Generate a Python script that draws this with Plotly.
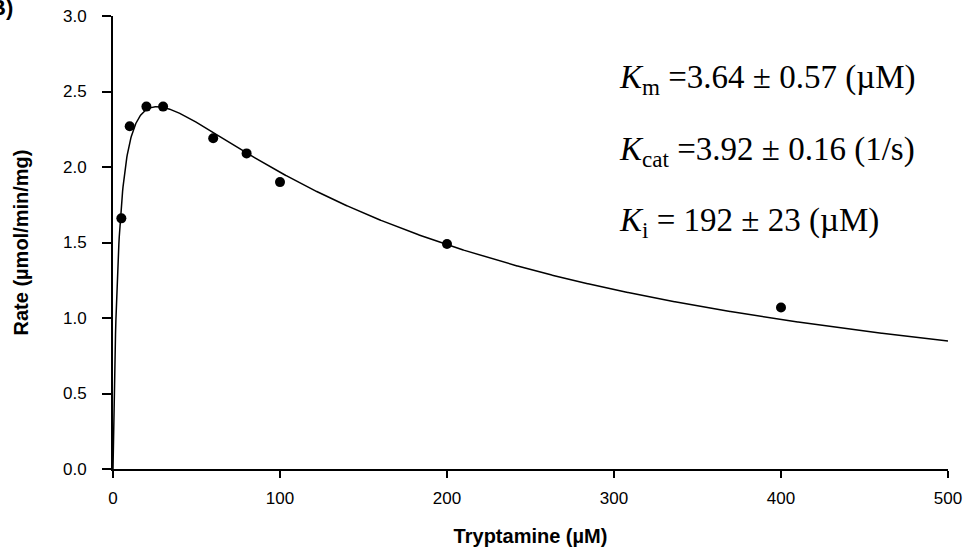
import numpy as np
import plotly.graph_objects as go

# Measured initial rates
tryptamine_uM = [5, 10, 20, 30, 60, 80, 100, 200, 400]
rate = [1.66, 2.27, 2.40, 2.40, 2.19, 2.09, 1.90, 1.49, 1.07]

# Substrate-inhibition fit parameters
Km = 3.64
Ki = 192.0
Vmax = 3.06  # umol/min/mg

x_ticks = [0, 100, 200, 300, 400, 500]
y_ticks = [0.0, 0.5, 1.0, 1.5, 2.0, 2.5, 3.0]

s = np.linspace(0, 500, 2001)
v_fit = Vmax * s / (Km + s + s ** 2 / Ki)

fig = go.Figure()
fig.add_trace(go.Scatter(x=s, y=v_fit, mode="lines",
                         line=dict(color="black", width=1.5),
                         hoverinfo="skip", showlegend=False))
fig.add_trace(go.Scatter(x=tryptamine_uM, y=rate, mode="markers",
                         marker=dict(color="black", size=10, symbol="circle"),
                         showlegend=False))

sans = "Liberation Sans, Arial, sans-serif"
tick_font = dict(family=sans, size=17, color="black")
title_font = dict(family=sans, size=20, color="black", weight="bold")

fig.update_xaxes(range=[0, 500], tickvals=x_ticks, ticktext=[str(v) for v in x_ticks],
                 ticks="outside", ticklen=7, tickwidth=1.5, tickcolor="black",
                 ticklabelstandoff=6, automargin=False,
                 showline=True, linecolor="black", linewidth=1.5,
                 showgrid=False, zeroline=False, tickfont=tick_font,
                 title=dict(text="Tryptamine (µM)", font=title_font, standoff=22))
fig.update_yaxes(range=[0, 3], tickvals=y_ticks, ticktext=[f"{v:.1f}" for v in y_ticks],
                 ticks="outside", ticklen=9, tickwidth=1.5, tickcolor="black",
                 ticklabelstandoff=12, automargin=False,
                 showline=True, linecolor="black", linewidth=2,
                 showgrid=False, zeroline=False, tickfont=tick_font,
                 title=dict(text="Rate (µmol/min/mg)", font=title_font, standoff=29))

serif = dict(family="Liberation Serif, Times New Roman, serif", size=33, color="black")
labels = [
    ("<i>K</i><sub>m</sub> =3.64 ± 0.57 (µM)", 2.58),
    ("<i>K</i><sub>cat</sub> =3.92 ± 0.16 (1/s)", 2.105),
    ("<i>K</i><sub>i</sub> = 192 ± 23 (µM)", 1.63),
]
for text, yv in labels:
    fig.add_annotation(text=text, xref="paper", x=0.6036, xanchor="left",
                       yref="y", y=yv, yanchor="middle", showarrow=False, font=serif)

# Panel letter in the upper-left corner
fig.add_annotation(text="<b>B)</b>", xref="paper", yref="paper",
                   x=-0.117, y=1.05, xanchor="right", yanchor="top", showarrow=False,
                   font=dict(family=sans, size=22, color="black"))

fig.update_layout(width=968, height=551,
                  margin=dict(l=113, r=20, t=16, b=82),
                  paper_bgcolor="white", plot_bgcolor="white")

fig.write_html("out.html")
